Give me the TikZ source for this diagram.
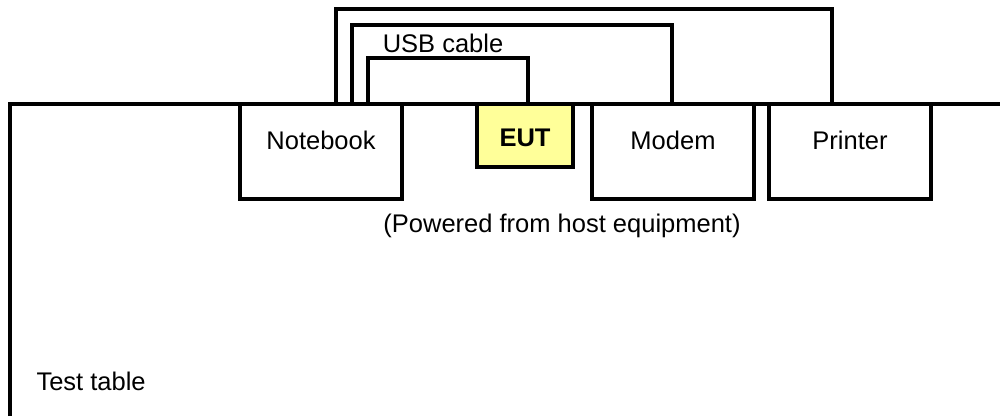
\documentclass[tikz,border=0pt]{standalone}
\usepackage{fontspec}
\setmainfont{Liberation Sans}
\usetikzlibrary{positioning}
\definecolor{eutyellow}{RGB}{255,255,153}

\begin{document}
\begin{tikzpicture}[x=1pt,y=1pt,
  devbox/.style={draw,line width=3.3pt,anchor=north,outer sep=0pt,inner sep=0pt,
    minimum width=162pt,minimum height=95pt},
  cable/.style={draw,line width=3.3pt},
  txt/.style={font=\fontsize{25.5}{30}\selectfont}]
  \useasboundingbox (0,0) rectangle (1000,-416);

  % test table
  \draw[line width=3.3pt] (10,-416) -- (10,-104) -- (1000,-104);

  % equipment on the table
  \node[devbox] (nb) at (321,-104) {};
  \node[devbox,fill=eutyellow,minimum width=96pt,minimum height=63pt] (eut) at (525,-104) {};
  \node[devbox] (modem) at (673,-104) {};
  \node[devbox] (prn) at (850,-104) {};

  % names
  \node[txt] (nbname) at (321,-140) {Notebook};
  \node[txt,font=\fontsize{25.5}{30}\selectfont\bfseries] (eutname) at (525,-138) {EUT};
  \node[txt] (modemname) at (673,-140) {Modem};
  \node[txt] (prnname) at (850,-140) {Printer};

  % cables from the notebook
  \draw[cable] ([xshift=96pt]nb.north west) -- ++(0,95) -| ([xshift=63pt]prn.north west);
  \draw[cable] ([xshift=112pt]nb.north west) -- ++(0,79) -| ([xshift=80pt]modem.north west);
  \draw[cable] ([xshift=128pt]nb.north west) -- ++(0,46) -| ([xshift=51pt]eut.north west);

  % notes
  \node[txt] (usb) at (443,-43) {USB cable};
  \node[txt] (power) at (562,-226) {(Powered from host equipment)};
  \node[txt,anchor=west] (table) at (33,-381) {Test table};
\end{tikzpicture}
\end{document}
